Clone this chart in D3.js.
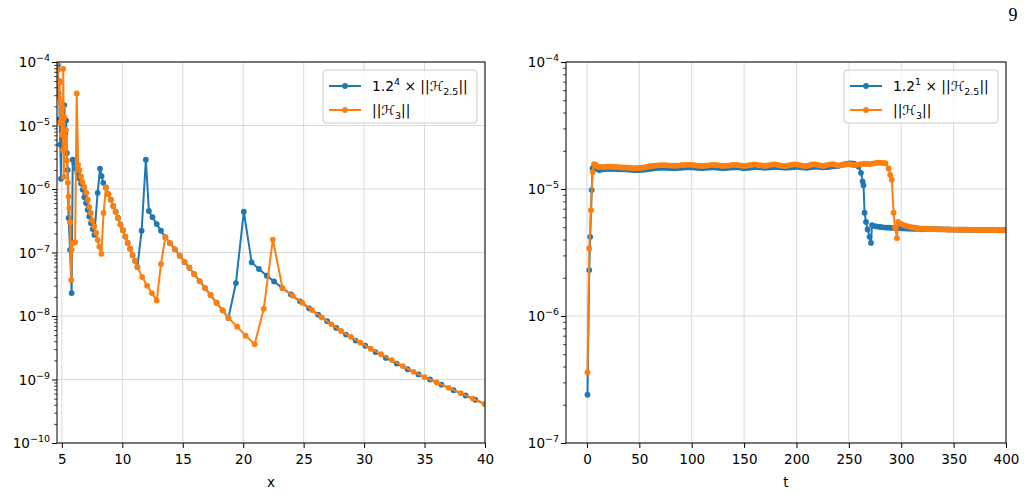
<!DOCTYPE html>
<html><head><meta charset="utf-8">
<script src="https://cdn.jsdelivr.net/npm/d3@7"></script>
<style>
body{margin:0;background:#fff}
svg{display:block}
</style>
</head><body>
<svg id="c" width="1026" height="493" font-family="DejaVu Sans, sans-serif"></svg>
<script>
// ---------- Left panel data ----------
const leftBlueX = [4.62,4.67,4.72,4.77,4.82,4.87,4.93,4.99,5.05,5.12,5.2,5.29,5.35,5.41,5.48,5.56,5.68,5.81,5.90,
  6.03,6.17,6.30,6.44,6.58,6.72,6.86,7.00,7.13,7.27,7.41,7.55,7.69,7.96,8.16,8.29,8.43,8.65,
  8.85,9.05,9.25,9.45,9.65,9.85,10.05,10.25,10.45,10.65,10.85,11.05,11.25,
  11.6,11.95,12.2,12.5,12.85,13.2,13.56,
  13.95,14.35,14.75,15.15,15.55,15.95,16.40,16.85,17.30,17.80,18.30,18.78,
  19.4,20.05,20.7,21.3,21.95,22.55,23.25,
  23.95,24.7,25.45,26.2,26.95,27.7,28.5,29.3,30.1,30.95,31.8,32.7,33.6,34.5,35.45,36.4,37.4,38.4,39.2,40.0];
const leftBlueY = [1.1e-4,8.9e-5,3.2e-5,5.0e-5,1.26e-5,5.0e-6,1.45e-6,7.9e-6,1.8e-5,5.3e-6,2.1e-5,7.6e-6,1.2e-5,3.7e-6,2.0e-6,3.5e-7,1.1e-7,2.3e-8,2.9e-6,
  2.57e-6,2.09e-6,1.78e-6,1.48e-6,1.23e-6,9.8e-7,7.4e-7,6.0e-7,4.7e-7,3.7e-7,2.9e-7,2.34e-7,1.9e-7,8.7e-7,2.1e-6,1.6e-6,1.25e-6,1.05e-6,
  8.3e-7,6.8e-7,5.4e-7,4.4e-7,3.5e-7,2.75e-7,2.24e-7,1.78e-7,1.41e-7,1.15e-7,9.1e-8,7.4e-8,5.9e-8,
  2.2e-7,2.9e-6,4.5e-7,3.6e-7,2.8e-7,2.2e-7,1.74e-7,
  1.40e-7,1.12e-7,8.9e-8,7.1e-8,5.75e-8,4.57e-8,3.55e-8,2.75e-8,2.14e-8,1.62e-8,1.23e-8,9.3e-9,
  3.3e-8,4.4e-7,7.0e-8,5.5e-8,4.3e-8,3.5e-8,2.75e-8,
  2.19e-8,1.70e-8,1.32e-8,1.05e-8,8.3e-9,6.5e-9,5.1e-9,4.1e-9,3.4e-9,2.7e-9,2.19e-9,1.78e-9,1.45e-9,1.20e-9,1.0e-9,8.3e-10,6.8e-10,5.6e-10,4.8e-10,4.1e-10];

const leftOrangeX = [4.6,4.65,4.7,4.75,4.8,4.86,4.92,4.98,5.04,5.09,5.12,5.17,5.2,5.27,5.34,5.42,5.5,5.56,5.62,5.68,5.77,5.82,5.9,6.1,6.23,
  6.35,6.45,6.58,6.7,6.86,7.03,7.15,7.27,7.4,7.52,7.68,7.85,7.97,8.1,8.27,8.45,8.65,
  8.85,9.05,9.25,9.45,9.65,9.85,10.05,10.25,10.45,10.65,10.85,11.05,11.25,
  11.65,12.05,12.45,12.85,13.2,13.56,
  13.95,14.35,14.75,15.15,15.55,15.95,16.40,16.85,17.30,17.80,18.30,18.78,
  19.5,20.2,20.95,21.7,22.45,23.25,
  24.1,24.9,25.7,26.5,27.3,28.1,28.9,29.7,30.55,31.4,32.3,33.2,34.1,35.0,36.0,37.0,38.0,39.0,40.0];
const leftOrangeY = [1.0e-4,5.0e-5,7.6e-5,2.8e-5,4.7e-5,1.12e-5,2.4e-5,7.1e-6,1.95e-5,4.1e-6,7.8e-5,1.55e-6,1.35e-5,6.3e-6,8.5e-6,2.8e-6,1.26e-6,7.6e-7,5.0e-7,3.0e-7,3.7e-8,1.1e-7,1.4e-7,1.45e-7,3.2e-5,
  2.4e-6,2.0e-6,1.58e-6,1.29e-6,1.07e-6,8.7e-7,6.8e-7,5.2e-7,4.2e-7,3.2e-7,2.57e-7,2.04e-7,1.58e-7,1.23e-7,9.5e-8,4.2e-7,1.07e-6,
  8.3e-7,6.8e-7,5.4e-7,4.4e-7,3.5e-7,2.75e-7,2.24e-7,1.78e-7,1.41e-7,1.15e-7,9.1e-8,7.4e-8,5.9e-8,
  4.1e-8,3.0e-8,2.3e-8,1.75e-8,6.6e-8,1.74e-7,
  1.40e-7,1.12e-7,8.9e-8,7.1e-8,5.75e-8,4.57e-8,3.55e-8,2.75e-8,2.14e-8,1.62e-8,1.23e-8,9.3e-9,
  6.8e-9,4.9e-9,3.6e-9,1.3e-8,1.6e-7,2.75e-8,
  2.09e-8,1.61e-8,1.24e-8,9.5e-9,7.4e-9,5.8e-9,4.7e-9,3.8e-9,3.05e-9,2.5e-9,2.02e-9,1.63e-9,1.32e-9,1.09e-9,8.97e-10,7.4e-10,6.1e-10,5.0e-10,4.1e-10];

const leftXTicks = [5,10,15,20,25,30,35,40];
const leftYTicks = [1e-10,1e-9,1e-8,1e-7,1e-6,1e-5,1e-4];
const leftYExp = ["−10","−9","−8","−7","−6","−5","−4"];

// ---------- Right panel data ----------
const rightBlueT = [0.5,2.2,3.1,4.5,5.4,7,9,11.7,
  12.5,15,17.5,20,22.5,25,27.5,30,32.5,35,37.5,40,42.5,45,47.5,50,52.5,55,57.5,60,62.5,65,67.5,70,72.5,75,77.5,80,82.5,85,87.5,90,92.5,95,97.5,100,
  102.5,105,107.5,110,112.5,115,117.5,120,122.5,125,127.5,130,132.5,135,137.5,140,142.5,145,147.5,150,152.5,155,157.5,160,162.5,165,167.5,170,172.5,175,177.5,180,
  182.5,185,187.5,190,192.5,195,197.5,200,202.5,205,207.5,210,212.5,215,217.5,220,222.5,225,227.5,230,232.5,235,237.5,240,242.5,245,247.5,250,252.5,255,257.5,
  259.3,261.6,263.1,264,265,266.4,267.9,269.8,271.1,272.1,
  275,277.5,280,282.5,285,287.5,290,292.5,295,297.5,300,302.5,305,307.5,310,312.5,315,317.5,320,322.5,325,327.5,330,332.5,335,337.5,340,
  342.5,345,347.5,350,352.5,355,357.5,360,362.5,365,367.5,370,372.5,375,377.5,380,382.5,385,387.5,390,392.5,395,397.5,400];
const rightBlueV = [2.4e-7,2.3e-6,4.2e-6,9.8e-6,1.46e-5,1.48e-5,1.44e-5,1.41e-5,
  1.42e-5,1.43e-5,1.435e-5,1.44e-5,1.44e-5,1.44e-5,1.435e-5,1.43e-5,1.43e-5,1.43e-5,1.425e-5,1.42e-5,1.415e-5,1.41e-5,1.41e-5,1.41e-5,1.415e-5,1.42e-5,1.43e-5,1.44e-5,1.45e-5,1.46e-5,1.465e-5,1.47e-5,1.47e-5,1.47e-5,1.465e-5,1.46e-5,1.46e-5,1.46e-5,1.465e-5,1.47e-5,1.475e-5,1.48e-5,1.48e-5,1.48e-5,
  1.475e-5,1.47e-5,1.465e-5,1.46e-5,1.465e-5,1.47e-5,1.475e-5,1.48e-5,1.475e-5,1.47e-5,1.465e-5,1.46e-5,1.465e-5,1.47e-5,1.475e-5,1.48e-5,1.48e-5,1.48e-5,1.47e-5,1.46e-5,1.465e-5,1.47e-5,1.48e-5,1.49e-5,1.485e-5,1.48e-5,1.475e-5,1.47e-5,1.475e-5,1.48e-5,1.485e-5,1.49e-5,
  1.485e-5,1.48e-5,1.475e-5,1.47e-5,1.475e-5,1.48e-5,1.49e-5,1.50e-5,1.49e-5,1.48e-5,1.475e-5,1.47e-5,1.48e-5,1.49e-5,1.495e-5,1.50e-5,1.49e-5,1.48e-5,1.485e-5,1.49e-5,1.50e-5,1.51e-5,1.515e-5,1.52e-5,1.54e-5,1.56e-5,1.575e-5,1.59e-5,1.59e-5,1.58e-5,1.55e-5,
  1.50e-5,1.34e-5,1.15e-5,1.07e-5,6.5e-6,5.5e-6,4.8e-6,4.2e-6,3.76e-6,5.2e-6,
  5.10e-6,5.06e-6,5.02e-6,4.99e-6,4.97e-6,4.96e-6,4.95e-6,4.94e-6,4.93e-6,4.915e-6,4.90e-6,4.89e-6,4.88e-6,4.875e-6,4.87e-6,4.865e-6,4.86e-6,4.855e-6,4.85e-6,4.845e-6,4.84e-6,4.835e-6,4.83e-6,4.825e-6,4.82e-6,4.815e-6,4.81e-6,
  4.805e-6,4.80e-6,4.795e-6,4.79e-6,4.785e-6,4.78e-6,4.78e-6,4.78e-6,4.775e-6,4.77e-6,4.765e-6,4.76e-6,4.76e-6,4.76e-6,4.755e-6,4.75e-6,4.75e-6,4.75e-6,4.745e-6,4.74e-6,4.74e-6,4.74e-6,4.735e-6,4.73e-6];

const rightOrangeT = [0.5,2.2,3.8,5.4,6.7,8.5,
  10,12.5,15,17.5,20,22.5,25,27.5,30,32.5,35,37.5,40,42.5,45,47.5,50,52.5,55,57.5,60,62.5,65,67.5,70,72.5,75,77.5,80,82.5,85,87.5,90,92.5,95,97.5,100,
  102.5,105,107.5,110,112.5,115,117.5,120,122.5,125,127.5,130,132.5,135,137.5,140,142.5,145,147.5,150,152.5,155,157.5,160,162.5,165,167.5,170,172.5,175,177.5,180,
  182.5,185,187.5,190,192.5,195,197.5,200,202.5,205,207.5,210,212.5,215,217.5,220,222.5,225,227.5,230,232.5,235,237.5,240,242.5,245,247.5,250,252.5,255,
  257.5,260,262.5,265,267.5,270,272.5,275,277.5,280,282.5,285,
  288,289.5,291,292.7,294,295.9,296.9,
  300,302.5,305,307.5,310,312.5,315,317.5,320,322.5,325,327.5,330,332.5,335,337.5,340,
  342.5,345,347.5,350,352.5,355,357.5,360,362.5,365,367.5,370,372.5,375,377.5,380,382.5,385,387.5,390,392.5,395,397.5,400];
const rightOrangeV = [3.6e-7,3.4e-6,6.8e-6,1.36e-5,1.57e-5,1.55e-5,
  1.50e-5,1.495e-5,1.49e-5,1.495e-5,1.50e-5,1.50e-5,1.495e-5,1.49e-5,1.485e-5,1.48e-5,1.48e-5,1.475e-5,1.47e-5,1.465e-5,1.46e-5,1.46e-5,1.465e-5,1.47e-5,1.48e-5,1.495e-5,1.51e-5,1.52e-5,1.53e-5,1.535e-5,1.54e-5,1.54e-5,1.54e-5,1.535e-5,1.53e-5,1.525e-5,1.525e-5,1.53e-5,1.54e-5,1.545e-5,1.55e-5,1.55e-5,1.55e-5,
  1.54e-5,1.53e-5,1.525e-5,1.52e-5,1.525e-5,1.53e-5,1.54e-5,1.55e-5,1.545e-5,1.54e-5,1.53e-5,1.52e-5,1.525e-5,1.53e-5,1.54e-5,1.55e-5,1.545e-5,1.54e-5,1.53e-5,1.52e-5,1.53e-5,1.54e-5,1.55e-5,1.56e-5,1.55e-5,1.54e-5,1.53e-5,1.52e-5,1.535e-5,1.55e-5,1.56e-5,1.56e-5,
  1.545e-5,1.53e-5,1.52e-5,1.52e-5,1.535e-5,1.55e-5,1.56e-5,1.56e-5,1.545e-5,1.53e-5,1.52e-5,1.52e-5,1.54e-5,1.56e-5,1.56e-5,1.55e-5,1.535e-5,1.52e-5,1.53e-5,1.55e-5,1.565e-5,1.57e-5,1.55e-5,1.53e-5,1.54e-5,1.55e-5,1.565e-5,1.57e-5,1.555e-5,1.54e-5,
  1.55e-5,1.56e-5,1.575e-5,1.58e-5,1.575e-5,1.57e-5,1.585e-5,1.60e-5,1.61e-5,1.61e-5,1.605e-5,1.60e-5,
  1.45e-5,1.29e-5,1.18e-5,6.5e-6,5.0e-6,4.1e-6,5.5e-6,
  5.30e-6,5.20e-6,5.12e-6,5.05e-6,5.00e-6,4.96e-6,4.93e-6,4.905e-6,4.88e-6,4.865e-6,4.85e-6,4.84e-6,4.83e-6,4.825e-6,4.82e-6,4.815e-6,4.81e-6,
  4.805e-6,4.80e-6,4.795e-6,4.79e-6,4.785e-6,4.78e-6,4.78e-6,4.78e-6,4.775e-6,4.77e-6,4.765e-6,4.76e-6,4.76e-6,4.76e-6,4.755e-6,4.75e-6,4.75e-6,4.75e-6,4.745e-6,4.74e-6,4.74e-6,4.74e-6,4.735e-6,4.73e-6];

const rightXTicks = [0,50,100,150,200,250,300,350,400];
const rightYTicks = [1e-7,1e-6,1e-5,1e-4];
const rightYExp = ["−7","−6","−5","−4"];

const legendLeft = ["4"];
const legendRight = ["1"];

const BLUE = "#1f77b4", ORANGE = "#ff7f0e";
const SANS = "'DejaVu Sans', sans-serif";

const svg = d3.select("#c");

function panel(cfg) {
  const {x, y, xTicks, yTicks, yExp, series, xlabel, legendExp, legendX, id} = cfg;
  const [x0, x1] = x.range();
  const [yb, yt] = y.range();
  const g = svg.append("g");

  // grid
  g.append("g").selectAll("line").data(xTicks).join("line")
    .attr("x1", d => x(d)).attr("x2", d => x(d)).attr("y1", yt).attr("y2", yb)
    .attr("stroke", "#d9d9d9").attr("stroke-width", 1);
  g.append("g").selectAll("line").data(yTicks).join("line")
    .attr("x1", x0).attr("x2", x1).attr("y1", d => y(d)).attr("y2", d => y(d))
    .attr("stroke", "#d9d9d9").attr("stroke-width", 1);

  // clip
  svg.append("clipPath").attr("id", id).append("rect")
    .attr("x", x0).attr("y", yt).attr("width", x1 - x0).attr("height", yb - yt);
  const plot = g.append("g").attr("clip-path", `url(#${id})`);
  const line = d3.line().x(d => x(d[0])).y(d => y(d[1]));
  series.forEach(s => {
    const pts = s.xs.map((v, i) => [v, s.ys[i]]);
    plot.append("path").datum(pts).attr("d", line)
      .attr("fill", "none").attr("stroke", s.color).attr("stroke-width", 2).attr("stroke-linejoin", "round");
    plot.append("g").selectAll("circle").data(pts).join("circle")
      .attr("cx", d => x(d[0])).attr("cy", d => y(d[1])).attr("r", 2.9).attr("fill", s.color);
  });

  // axes
  const xa = g.append("g").attr("transform", `translate(0,${yb})`)
    .call(d3.axisBottom(x).tickValues(xTicks).tickSize(5).tickPadding(6).tickFormat(d3.format("d")));
  xa.select(".domain").remove();
  xa.selectAll("text").attr("font-size", 13.5).style("font-family", SANS).attr("fill", "#000");
  xa.selectAll("line").attr("stroke", "#000");

  const minors = [];
  for (let i = 0; i < yTicks.length - 1; i++) for (let k = 2; k <= 9; k++) minors.push(yTicks[i] * k);
  const ya = g.append("g").attr("transform", `translate(${x0},0)`)
    .call(d3.axisLeft(y).tickValues(yTicks).tickSize(5).tickFormat(""));
  ya.select(".domain").remove();
  ya.selectAll("line").attr("stroke", "#000");
  const ym = g.append("g").attr("transform", `translate(${x0},0)`)
    .call(d3.axisLeft(y).tickValues(minors).tickSize(2.8).tickFormat(""));
  ym.select(".domain").remove();
  ym.selectAll("line").attr("stroke", "#000").attr("stroke-width", 0.8);

  const lab = g.append("g").selectAll("text").data(yTicks).join("text")
    .attr("x", x0 - 7).attr("y", d => y(d) + 5).attr("text-anchor", "end").attr("font-size", 13.5)
    .style("font-family", SANS);
  lab.append("tspan").text("10");
  lab.append("tspan").attr("dy", -6).attr("font-size", 9.5).text((d, i) => yExp[i]);

  // spines
  g.append("rect").attr("x", x0).attr("y", yt).attr("width", x1 - x0).attr("height", yb - yt)
    .attr("fill", "none").attr("stroke", "#000").attr("stroke-width", 1);

  // xlabel
  g.append("text").attr("x", (x0 + x1) / 2).attr("y", 487).attr("text-anchor", "middle")
    .attr("font-size", 13.5).style("font-family", SANS).text(xlabel);

  // legend
  const lg = g.append("g").attr("transform", `translate(${legendX},70)`);
  lg.append("rect").attr("x", 0).attr("y", 0).attr("width", 154).attr("height", 53).attr("rx", 3)
    .attr("fill", "#fff").attr("fill-opacity", 0.8).attr("stroke", "#cccccc").attr("stroke-width", 1);
  series.forEach((s, i) => {
    const yy = 16 + i * 24;
    lg.append("line").attr("x1", 6).attr("x2", 38).attr("y1", yy).attr("y2", yy)
      .attr("stroke", s.color).attr("stroke-width", 2);
    lg.append("circle").attr("cx", 22).attr("cy", yy).attr("r", 2.9).attr("fill", s.color);
    const t = lg.append("text").attr("x", 49).attr("y", yy + 5).attr("font-size", 13.8).style("font-family", SANS);
    const H = sel => sel.append("tspan").style("font-style", "italic").text("ℋ");
    if (i === 0) {
      t.append("tspan").text("1.2");
      t.append("tspan").attr("dy", -6).attr("font-size", 9.5).text(legendExp[0]);
      t.append("tspan").attr("dy", 6).text(" × ||");
      H(t);
      t.append("tspan").attr("dy", 3.5).attr("font-size", 9.5).text("2.5");
      t.append("tspan").attr("dy", -3.5).text("||");
    } else {
      t.append("tspan").text("||");
      H(t);
      t.append("tspan").attr("dy", 3.5).attr("font-size", 9.5).text("3");
      t.append("tspan").attr("dy", -3.5).text("||");
    }
  });
}

panel({
  id: "clipL",
  x: d3.scaleLinear().domain([4.6, 40]).range([57, 485]),
  y: d3.scaleLog().domain([1e-10, 1e-4]).range([443, 62]),
  xTicks: leftXTicks, yTicks: leftYTicks, yExp: leftYExp,
  series: [{xs: leftBlueX, ys: leftBlueY, color: BLUE}, {xs: leftOrangeX, ys: leftOrangeY, color: ORANGE}],
  xlabel: "x", legendExp: legendLeft, legendX: 323
});
panel({
  id: "clipR",
  x: d3.scaleLinear().domain([-20, 400]).range([566, 1006]),
  y: d3.scaleLog().domain([1e-7, 1e-4]).range([443, 62]),
  xTicks: rightXTicks, yTicks: rightYTicks, yExp: rightYExp,
  series: [{xs: rightBlueT, ys: rightBlueV, color: BLUE}, {xs: rightOrangeT, ys: rightOrangeV, color: ORANGE}],
  xlabel: "t", legendExp: legendRight, legendX: 844
});

svg.append("text").attr("x", 1013).attr("y", 21).attr("text-anchor", "middle")
  .style("font-family", "'Liberation Serif', serif").attr("font-size", 18).text("9");
</script>
</body></html>
